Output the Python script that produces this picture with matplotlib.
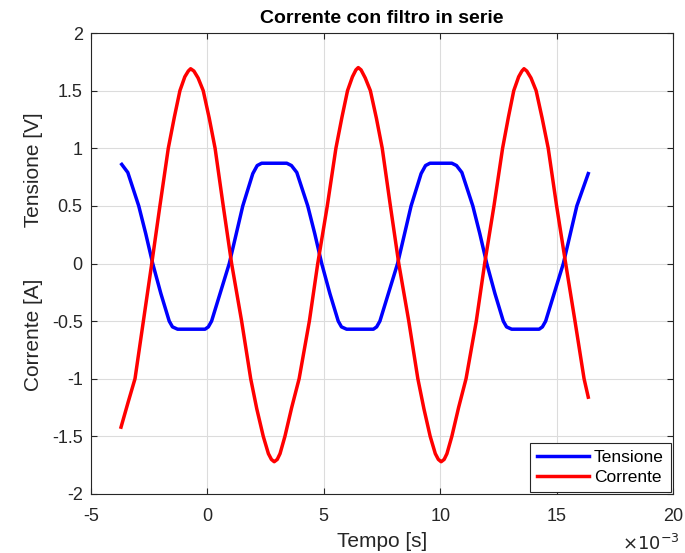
import numpy as np
import matplotlib
matplotlib.use('Agg')
import matplotlib.pyplot as plt

plt.rcParams['font.family'] = ['Liberation Sans', 'DejaVu Sans']

# Tensione [V] - tempo in ms (asse mostrato con x10^-3)
t_tensione = [-3.68, -3.42, -2.95, -2.65, -2.35, -2.00, -1.64, -1.50, -1.28,
              -0.10, 0.04, 0.18, 0.56, 0.94, 1.23, 1.52, 1.95, 2.14, 2.33,
              3.41, 3.61, 3.84, 4.31, 4.61, 4.91, 5.26, 5.62, 5.76, 5.98,
              7.13, 7.27, 7.41, 7.79, 8.17, 8.46, 8.75, 9.18, 9.37, 9.56,
              10.50, 10.70, 10.93, 11.40, 11.70, 12.00, 12.35, 12.71, 12.85, 13.07,
              14.25, 14.39, 14.53, 14.91, 15.29, 15.58, 15.87, 16.36]
v_tensione = [0.86, 0.79, 0.50, 0.26, 0.00, -0.26, -0.50, -0.55, -0.57,
              -0.57, -0.55, -0.50, -0.25, 0.00, 0.25, 0.50, 0.78, 0.85, 0.87,
              0.87, 0.85, 0.79, 0.50, 0.26, 0.00, -0.26, -0.50, -0.55, -0.57,
              -0.57, -0.55, -0.50, -0.25, 0.00, 0.25, 0.50, 0.78, 0.85, 0.87,
              0.87, 0.85, 0.79, 0.50, 0.26, 0.00, -0.26, -0.50, -0.55, -0.57,
              -0.57, -0.55, -0.50, -0.25, 0.00, 0.25, 0.50, 0.78]

# Corrente [A]
t_corrente = [-3.71, -3.40, -3.11, -2.75, -2.39, -2.04, -1.68, -1.42, -1.18, -0.97,
              -0.82, -0.72, -0.58, -0.40, -0.18, 0.08, 0.33, 0.68, 1.04, 1.47,
              1.86, 2.12, 2.40, 2.62, 2.75, 2.87, 3.00, 3.12, 3.33, 3.62,
              3.94, 4.38, 4.74, 5.15, 5.52, 5.78, 6.02, 6.23, 6.38, 6.48,
              6.60, 6.78, 7.00, 7.26, 7.51, 7.86, 8.22, 8.65, 9.04, 9.30,
              9.57, 9.79, 9.92, 10.04, 10.17, 10.29, 10.50, 10.79, 11.11, 11.55,
              11.91, 12.31, 12.68, 12.93, 13.16, 13.37, 13.51, 13.60, 13.72, 13.90,
              14.12, 14.38, 14.64, 15.00, 15.39, 15.79, 16.18, 16.36]
i_corrente = [-1.42, -1.20, -1.00, -0.50, 0.00, 0.50, 1.00, 1.27, 1.50, 1.62,
              1.67, 1.69, 1.67, 1.61, 1.50, 1.26, 1.00, 0.50, 0.00, -0.50,
              -1.00, -1.26, -1.50, -1.65, -1.70, -1.72, -1.70, -1.65, -1.50, -1.25,
              -1.00, -0.50, 0.00, 0.50, 1.00, 1.27, 1.50, 1.62, 1.68, 1.70,
              1.68, 1.61, 1.50, 1.26, 1.00, 0.50, 0.00, -0.50, -1.00, -1.26,
              -1.50, -1.65, -1.70, -1.72, -1.70, -1.65, -1.50, -1.25, -1.00, -0.50,
              0.00, 0.50, 1.00, 1.27, 1.50, 1.62, 1.67, 1.69, 1.67, 1.61,
              1.50, 1.26, 1.00, 0.50, 0.00, -0.50, -1.00, -1.16]

fig = plt.figure(figsize=(6.85, 5.53), dpi=100)
ax = fig.add_axes([91 / 685, 1 - 494 / 553, 582 / 685, 461 / 553])

ax.plot(t_tensione, v_tensione, color=(0, 0, 1), linewidth=2.5, label='Tensione',
        solid_joinstyle='round')
ax.plot(t_corrente, i_corrente, color=(1, 0, 0), linewidth=2.5, label='Corrente',
        solid_joinstyle='round')

ax.set_xlim(-5, 20)
ax.set_ylim(-2, 2)
ax.set_xticks([-5, 0, 5, 10, 15, 20])
ax.set_yticks([-2, -1.5, -1, -0.5, 0, 0.5, 1, 1.5, 2])
ax.set_yticklabels(['-2', '-1.5', '-1', '-0.5', '0', '0.5', '1', '1.5', '2'])
ax.set_xticklabels(['-5', '0', '5', '10', '15', '20'])

dark = '#262626'
ax.grid(True, color='#dcdcdc', linewidth=0.8)
ax.set_axisbelow(True)
for s in ax.spines.values():
    s.set_color(dark)
    s.set_linewidth(0.8)
ax.tick_params(direction='in', length=4, width=0.8, colors=dark, labelsize=13,
               top=True, right=True, pad=6)
ax.tick_params(axis='x', pad=10)

ax.set_title('Corrente con filtro in serie', fontsize=14, fontweight='bold', pad=7)
ax.set_xlabel('Tempo [s]', fontsize=15, color=dark, labelpad=5)
ax.set_ylabel('Corrente [A]         Tensione [V]', fontsize=15, color=dark)
ax.yaxis.set_label_coords(-0.0825, 0.526)
ax.text(1.012, -0.1215, r'$\times10^{-3}$', transform=ax.transAxes, fontsize=13,
        color=dark, ha='right', va='baseline')

leg = ax.legend(loc='lower right', fontsize=12.5, handlelength=3.0, fancybox=False,
                framealpha=1, edgecolor=dark, borderaxespad=0.12,
                labelspacing=0.3, handletextpad=0.3, borderpad=0.4)
leg.get_frame().set_linewidth(0.8)

fig.savefig('out.png', dpi=100)
